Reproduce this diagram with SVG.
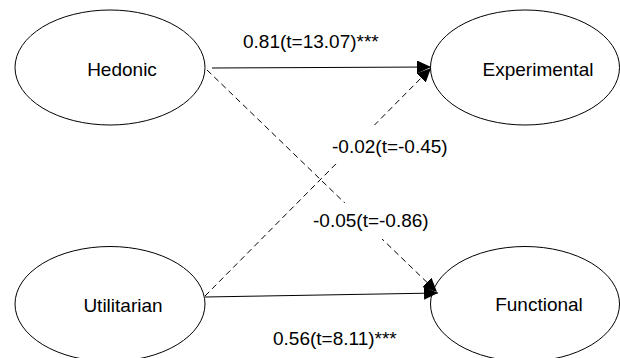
<svg xmlns="http://www.w3.org/2000/svg" width="620" height="358" viewBox="0 0 620 358">
<style>
.node{fill:#fff;stroke:#000;stroke-width:1}
.nt{font-family:"Liberation Sans",Arial,sans-serif;font-size:19px;fill:#000;text-anchor:middle}
.lt{font-family:"Liberation Sans",Arial,sans-serif;font-size:19px;fill:#000}
.c{fill:none;stroke:#000;stroke-width:1}
.d{stroke-dasharray:6,4}
.bg{fill:#fff;stroke:none}
</style>
<defs>
<marker id="ah" markerUnits="userSpaceOnUse" markerWidth="15" markerHeight="13" refX="14" refY="6.5" orient="auto">
<path d="M0,0 L14,6.5 L0,13 z" fill="#000"/>
</marker>
</defs>
<rect width="620" height="358" fill="#fff"/>
<g id="hedonic"><ellipse class="node" cx="110" cy="67.5" rx="95" ry="57.5"/><text class="nt" x="122" y="76">Hedonic</text></g>
<g id="experimental"><ellipse class="node" cx="525" cy="67.5" rx="94.5" ry="57.5"/><text class="nt" x="538" y="76">Experimental</text></g>
<g id="utilitarian"><ellipse class="node" cx="110" cy="304" rx="95" ry="57.5"/><text class="nt" x="123" y="312">Utilitarian</text></g>
<g id="functional"><ellipse class="node" cx="525" cy="304" rx="94.5" ry="57.5"/><text class="nt" x="539" y="311">Functional</text></g>
<g id="connectors">
<line class="c" x1="212" y1="68" x2="431" y2="67" marker-end="url(#ah)"/>
<line class="c d" x1="205" y1="296" x2="431" y2="68" marker-end="url(#ah)"/>
<line class="c d" x1="207" y1="70" x2="437" y2="292" marker-end="url(#ah)"/>
<line class="c" x1="205" y1="297" x2="438" y2="293" marker-end="url(#ah)"/>
</g>
<g id="labels">
<text class="lt" x="243" y="48">0.81(t=13.07)***</text>
<rect class="bg" x="328" y="125" width="120" height="37"/>
<text class="lt" x="332" y="153">-0.02(t=-0.45)</text>
<rect class="bg" x="309" y="203" width="121" height="36"/>
<text class="lt" x="313" y="227">-0.05(t=-0.86)</text>
<text class="lt" x="273" y="345">0.56(t=8.11)***</text>
</g>
</svg>
